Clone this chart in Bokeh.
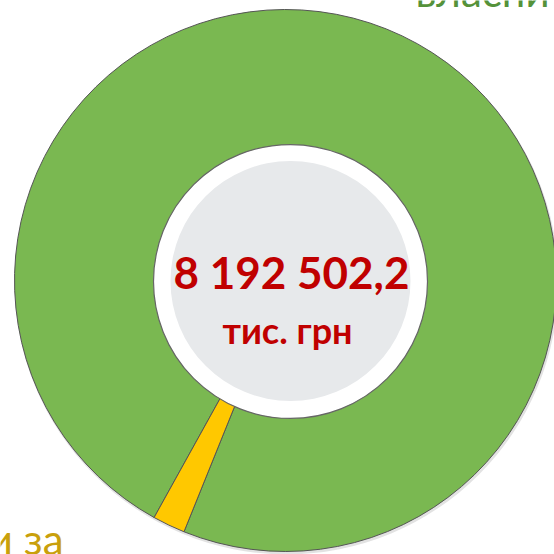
import math
from bokeh.plotting import figure
from bokeh.models import Range1d, ColumnDataSource
from bokeh.core.properties import value
from bokeh.embed import file_html
from bokeh.resources import INLINE

# Data
categories = ["власні", "інші"]
amounts = [8033202.2, 159300.0]
colors = ["#7AB851", "#FFC800"]
total_text = "8 192 502,2"
unit_text = "тис. грн"
label_top = "власни"
label_bottom = "и за"

W, H = 554, 554

def dy(y_img):
    return H - y_img

p = figure(width=W, height=H, output_backend="svg", toolbar_location=None,
           x_range=Range1d(0, W), y_range=Range1d(0, H), min_border=0)
p.axis.visible = False
p.grid.visible = False
p.outline_line_color = None
p.background_fill_color = "white"
p.border_fill_color = "white"

total = sum(amounts)
start0 = math.radians(-112)
starts, ends = [], []
acc = start0
for a in amounts:
    starts.append(acc)
    acc += a / total * 2 * math.pi
    ends.append(acc)

src = ColumnDataSource(dict(start=starts, end=ends, color=colors, cat=categories))
cx, cy = 285, dy(280)
p.circle(x=[cx + 1], y=[cy - 2], radius=272, radius_units="screen",
         fill_color="#cfcfcf", line_color=None, fill_alpha=0.6)
p.annular_wedge(x=cx, y=cy, inner_radius=120, outer_radius=271,
                inner_radius_units="screen", outer_radius_units="screen",
                start_angle="start", end_angle="end", fill_color="color",
                line_color="#555555", line_width=1, source=src)

ix, iy = 290, dy(281)
p.circle(x=[ix], y=[iy], radius=137, radius_units="screen",
         fill_color="white", line_color="#666666", line_width=1.2)
p.circle(x=[ix], y=[dy(280.5)], radius=120, radius_units="screen",
         fill_color="#E7E9EB", line_color=None)

p.text(x=[291], y=[dy(271)], text=[total_text], text_align="center",
       text_baseline="middle", text_color="#C00000",
       text_font=value("Lato"), text_font_style="bold", text_font_size="44px")
p.text(x=[287], y=[dy(329)], text=[unit_text], text_align="center",
       text_baseline="middle", text_color="#C00000",
       text_font=value("Lato"), text_font_style="bold", text_font_size="36px")

p.text(x=[415], y=[dy(-10)], text=[label_top], text_align="left",
       text_baseline="middle", text_color="#55923A",
       text_font=value("Lato"), text_font_size="42px")
p.text(x=[63], y=[dy(538)], text=[label_bottom], text_align="right",
       text_baseline="middle", text_color="#C9A00C",
       text_font=value("Lato"), text_font_size="42px")

open("out.html", "w").write(file_html(p, INLINE))
